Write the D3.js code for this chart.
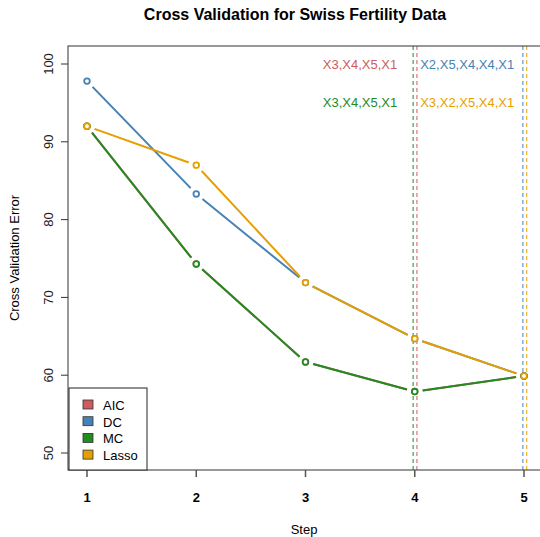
<!DOCTYPE html>
<html>
<head>
<meta charset="utf-8">
<script src="https://cdn.jsdelivr.net/npm/d3@7"></script>
<style>
  body { margin: 0; background: #fff; }
  svg text { font-family: "Liberation Sans", Arial, sans-serif; }
</style>
</head>
<body>
<div id="chart"></div>
<script>
// data
const steps = [1, 2, 3, 4, 5];
const methods = ["AIC", "DC", "MC", "Lasso"];
const aicErr = [92.0, 74.3, 61.7, 57.9, 59.9];
const dcErr = [97.8, 83.3, 71.9, 64.7, 59.9];
const mcErr = [92.0, 74.3, 61.7, 57.9, 59.9];
const lassoErr = [92.0, 87.0, 71.9, 64.7, 59.9];
const bestStep = [4, 5, 4, 5];
const bestOffset = [0.02, -0.01, -0.015, 0.025];
const bestVars = ["X3,X4,X5,X1", "X2,X5,X4,X4,X1", "X3,X4,X5,X1", "X3,X2,X5,X4,X1"];
const yTicks = [50, 60, 70, 80, 90, 100];

const colors = ["#CD5C5C", "#4682B4", "#228B22", "#E69F00"];
const series = [aicErr, dcErr, mcErr, lassoErr];

const W = 540, H = 537;
const svg = d3.select("#chart").append("svg")
    .attr("width", W)
    .attr("height", H);

const x = d3.scaleLinear().domain([1, 5]).range([87, 524]);
const y = d3.scaleLinear().domain([50, 100]).range([453, 64]);
const box = {left: 68, right: 541, top: 46, bottom: 470};

// title
svg.append("text")
    .attr("x", 295).attr("y", 20)
    .attr("text-anchor", "middle")
    .style("font-weight", "bold")
    .style("font-size", "16px")
    .text("Cross Validation for Swiss Fertility Data");

// dashed lines at the chosen step
methods.forEach((m, i) => {
    svg.append("line")
        .attr("x1", x(bestStep[i] + bestOffset[i]))
        .attr("x2", x(bestStep[i] + bestOffset[i]))
        .attr("y1", box.top).attr("y2", box.bottom)
        .style("stroke", colors[i])
        .style("stroke-width", 1)
        .style("stroke-dasharray", "4,3");
});

// selected variables
const labelPos = [
    {s: 3.84, v: 100, anchor: "end"},
    {s: 4.05, v: 100, anchor: "start"},
    {s: 3.84, v: 95, anchor: "end"},
    {s: 4.05, v: 95, anchor: "start"}
];
methods.forEach((m, i) => {
    svg.append("text")
        .attr("x", x(labelPos[i].s))
        .attr("y", y(labelPos[i].v) + 4.5)
        .attr("text-anchor", labelPos[i].anchor)
        .style("font-size", "13px")
        .style("fill", colors[i])
        .text(bestVars[i]);
});

// lines with gaps around the points (like R type="b")
const gap = 8;
series.forEach((vals, i) => {
    const g = svg.append("g");
    for (let k = 0; k < steps.length - 1; k++) {
        const x1 = x(steps[k]), y1 = y(vals[k]);
        const x2 = x(steps[k + 1]), y2 = y(vals[k + 1]);
        const len = Math.hypot(x2 - x1, y2 - y1);
        const ux = (x2 - x1) / len, uy = (y2 - y1) / len;
        g.append("line")
            .attr("x1", x1 + ux * gap).attr("y1", y1 + uy * gap)
            .attr("x2", x2 - ux * gap).attr("y2", y2 - uy * gap)
            .style("stroke", colors[i])
            .style("stroke-width", 2);
    }
    g.selectAll("circle")
        .data(vals)
        .enter().append("circle")
        .attr("cx", (d, k) => x(steps[k]))
        .attr("cy", d => y(d))
        .attr("r", 2.8)
        .style("fill", "#fff")
        .style("stroke", colors[i])
        .style("stroke-width", 1.8);
});

// box
svg.append("rect")
    .attr("x", box.left).attr("y", box.top)
    .attr("width", box.right - box.left)
    .attr("height", box.bottom - box.top)
    .style("fill", "none")
    .style("stroke", "#333")
    .style("stroke-width", 1);

// y axis
const yAxis = svg.append("g");
yAxis.selectAll("line")
    .data(yTicks)
    .enter().append("line")
    .attr("x1", box.left - 7).attr("x2", box.left)
    .attr("y1", d => y(d)).attr("y2", d => y(d))
    .style("stroke", "#333");
yAxis.selectAll("text")
    .data(yTicks)
    .enter().append("text")
    .attr("transform", d => "translate(" + 53 + "," + y(d) + ") rotate(-90)")
    .attr("text-anchor", "middle")
    .style("font-size", "13px")
    .style("fill", "#222")
    .text(d => d);

// x axis
const xAxis = svg.append("g");
xAxis.selectAll("line")
    .data(steps)
    .enter().append("line")
    .attr("x1", d => x(d)).attr("x2", d => x(d))
    .attr("y1", box.bottom).attr("y2", box.bottom + 7)
    .style("stroke", "#555")
    .style("stroke-width", 1.5);
xAxis.selectAll("text")
    .data(steps)
    .enter().append("text")
    .attr("x", d => x(d))
    .attr("y", 502)
    .attr("text-anchor", "middle")
    .style("font-size", "13px")
    .style("font-weight", "bold")
    .text(d => d);

// axis titles
svg.append("text")
    .attr("x", 304).attr("y", 534)
    .attr("text-anchor", "middle")
    .style("font-size", "13px")
    .text("Step");
svg.append("text")
    .attr("transform", "translate(19," + 258 + ") rotate(-90)")
    .attr("text-anchor", "middle")
    .style("font-size", "13px")
    .text("Cross Validation Error");

// legend
const leg = svg.append("g");
leg.append("rect")
    .attr("x", 69).attr("y", 388)
    .attr("width", 78).attr("height", 82)
    .style("fill", "#fff")
    .style("stroke", "#222");
methods.forEach((m, i) => {
    const cy = 405 + i * 16.7;
    leg.append("rect")
        .attr("x", 83).attr("y", cy - 5)
        .attr("width", 10).attr("height", 9)
        .style("fill", colors[i])
        .style("stroke", "#333")
        .style("stroke-width", 0.8);
    leg.append("text")
        .attr("x", 103).attr("y", cy + 5)
        .style("font-size", "13px")
        .text(m);
});
</script>
</body>
</html>
